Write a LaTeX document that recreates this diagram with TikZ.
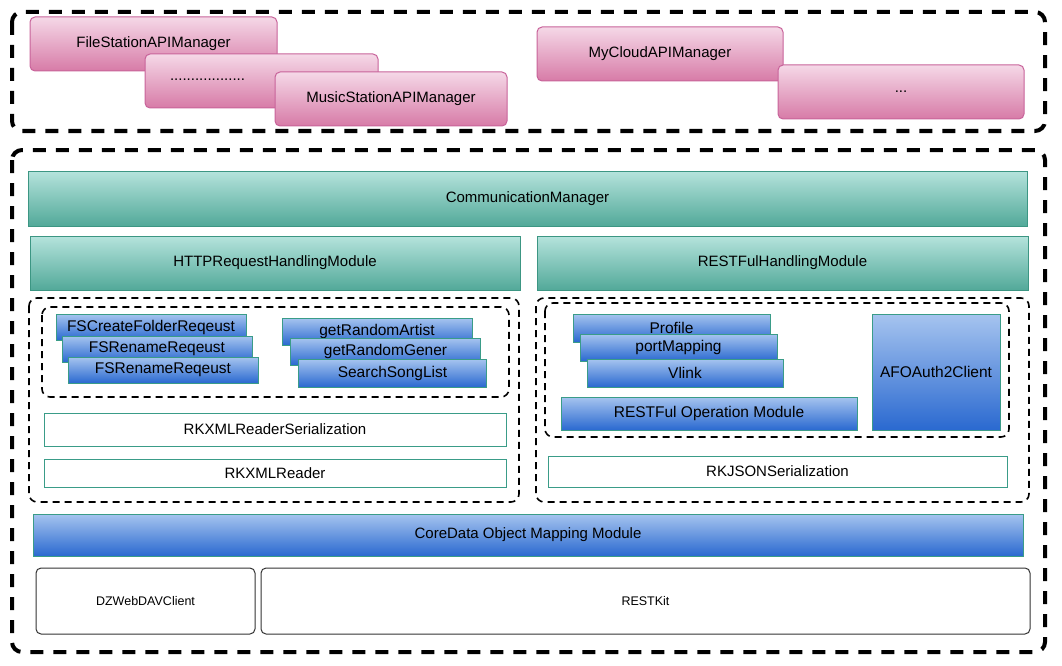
\documentclass[tikz,border=0pt]{standalone}
\usepackage{fontspec}
\setmainfont{Liberation Sans}
\tikzset{
  pinkbox/.style={draw=pinkline, rounded corners=5pt, top color=pinktop, bottom color=pinkbot, line width=1pt, inner sep=0pt, font=\fontsize{15}{17}\selectfont},
  tealbox/.style={draw=tealline, top color=tealtop, bottom color=tealbot, line width=1pt, inner sep=0pt, font=\fontsize{15}{17}\selectfont},
  bluebox/.style={draw=blueline, top color=bluetop, bottom color=bluebot, line width=1pt, inner sep=0pt, font=\fontsize{15.5}{17}\selectfont},
  plainbox/.style={draw=blueline, fill=white, line width=1pt, inner sep=0pt, font=\fontsize{15}{17}\selectfont},
  libbox/.style={draw=black!80, fill=white, rounded corners=5pt, line width=1pt, inner sep=0pt, font=\fontsize{12.5}{14}\selectfont},
  layer/.style={line width=4pt, dash pattern=on 13pt off 10pt, rounded corners=10pt},
  group/.style={line width=1.6pt, dash pattern=on 7pt off 5pt, rounded corners=8pt}
}
\definecolor{pinktop}{HTML}{F5D8E7}
\definecolor{pinkbot}{HTML}{D77BA7}
\definecolor{pinkline}{HTML}{C8639A}
\definecolor{tealtop}{HTML}{B5E3DC}
\definecolor{tealbot}{HTML}{52A999}
\definecolor{tealline}{HTML}{3C9683}
\definecolor{bluetop}{HTML}{A6C4EF}
\definecolor{bluebot}{HTML}{2A69D0}
\definecolor{blueline}{HTML}{3A9C88}
\begin{document}
\begin{tikzpicture}[x=1pt, y=-1pt]
\useasboundingbox (0,0) rectangle (1062,666);
% API managers
\draw[layer] (12,12) rectangle (1045,131);
\node[pinkbox, minimum width=247pt, minimum height=54pt] (fsapi) at (153.5,44) {FileStationAPIManager};
\node[pinkbox, minimum width=233pt, minimum height=54pt, text width=213pt, align=left] (otherapi) at (261.5,81) {\hspace*{15pt}\raisebox{3pt}{..................}};
\node[pinkbox, minimum width=232pt, minimum height=54pt] (musicapi) at (391,99) {MusicStationAPIManager};
\node[pinkbox, minimum width=246pt, minimum height=54pt] (cloudapi) at (660,54) {MyCloudAPIManager};
\node[pinkbox, minimum width=246pt, minimum height=54pt] (moreapi) at (901,92) {...};
% communication layer
\draw[layer] (12,150) rectangle (1045,652);
\node[tealbox, minimum width=999pt, minimum height=55pt] (comm) at (527.5,198.5) {CommunicationManager};
\node[tealbox, minimum width=490pt, minimum height=54pt] (http) at (275,263) {HTTPRequestHandlingModule};
\node[tealbox, minimum width=491pt, minimum height=54pt] (rest) at (782.5,263) {RESTFulHandlingModule};
% HTTP side
\draw[group] (29,298) rectangle (519,502);
\draw[group] (42,307) rectangle (509,397);
\node[bluebox, minimum width=190pt, minimum height=26pt] (fscreate) at (151,327) {FSCreateFolderReqeust};
\node[bluebox, minimum width=190pt, minimum height=26pt] (fsrenamea) at (157,349) {FSRenameReqeust};
\node[bluebox, minimum width=190pt, minimum height=26pt] (fsrenameb) at (163,370) {FSRenameReqeust};
\node[bluebox, minimum width=190pt, minimum height=27pt] (artist) at (377,331.5) {getRandomArtist};
\node[bluebox, minimum width=190pt, minimum height=27pt] (gener) at (385.5,351.5) {getRandomGener};
\node[bluebox, minimum width=188pt, minimum height=28pt] (songs) at (392.5,373) {SearchSongList};
\node[plainbox, minimum width=462pt, minimum height=33pt] (xmlser) at (275,429.5) {RKXMLReaderSerialization};
\node[plainbox, minimum width=462pt, minimum height=28pt] (xmlreader) at (275,473) {RKXMLReader};
% RESTFul side
\draw[group] (536,298) rectangle (1029,502);
\draw[group] (545,303) rectangle (1009,437);
\node[bluebox, minimum width=197pt, minimum height=28pt] (profile) at (671.5,328) {Profile};
\node[bluebox, minimum width=197pt, minimum height=27pt] (portmap) at (678.5,347.5) {portMapping};
\node[bluebox, minimum width=196pt, minimum height=28pt] (vlink) at (685,373) {Vlink};
\node[bluebox, minimum width=296pt, minimum height=33pt] (restop) at (709,413.5) {RESTFul Operation Module};
\node[bluebox, minimum width=128pt, minimum height=116pt] (oauth) at (936,372) {AFOAuth2Client};
\node[plainbox, minimum width=459pt, minimum height=31pt] (jsonser) at (777.5,471.5) {RKJSONSerialization};
% mapping and libraries
\node[bluebox, minimum width=990pt, minimum height=42pt, font=\fontsize{15}{17}\selectfont] (coredata) at (528,535) {CoreData Object Mapping Module};
\node[libbox, minimum width=219pt, minimum height=66pt] (webdav) at (145.5,601) {DZWebDAVClient};
\node[libbox, minimum width=769pt, minimum height=66pt] (restkit) at (645.5,601) {RESTKit};
\end{tikzpicture}
\end{document}
